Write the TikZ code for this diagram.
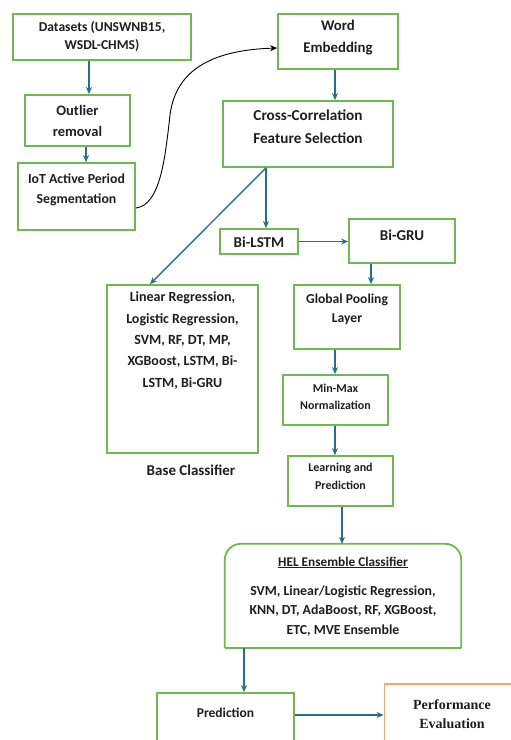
\documentclass[tikz,border=0pt]{standalone}
\usepackage{fontspec}
\setmainfont{Carlito}
\newfontfamily\perffont{Liberation Serif}
\usetikzlibrary{arrows.meta}
\definecolor{boxgreen}{RGB}{112,184,82}
\definecolor{boxorange}{RGB}{244,165,110}
\definecolor{arrteal}{RGB}{42,110,142}
\definecolor{txtc}{RGB}{30,30,30}
\tikzset{
  box/.style={draw=boxgreen, line width=1.8pt, inner sep=0pt},
  obox/.style={draw=boxorange, line width=1.8pt, inner sep=0pt},
  lbl/.style={align=center, inner sep=0pt, text=txtc},
  conn/.style={draw=arrteal, line width=1.4pt, -{Stealth[length=7pt,width=6pt]}},
  curv/.style={draw=black, line width=0.9pt, -{Stealth[length=7pt,width=6pt]}},
}
\newcommand{\fs}[2]{\fontsize{#1}{#2}\selectfont\bfseries}
\begin{document}
\begin{tikzpicture}[x=1pt,y=-1pt]
\useasboundingbox (0,0) rectangle (511,740);
\clip (0,0) rectangle (511,740);
% boxes
\node[box, minimum width=178pt, minimum height=46pt] (ds) at (102,37) {};
\node[lbl, font=\fs{13.6}{18}] (dst) at (102,36) {Datasets (UNSWNB15,\\WSDL-CHMS)};
\node[box, minimum width=105pt, minimum height=51pt] (out) at (77.5,120.5) {};
\node[lbl, font=\fs{14.5}{21}] (outt) at (77.5,120.5) {Outlier\\removal};
\node[box, minimum width=117pt, minimum height=67pt] (iot) at (76.5,196.5) {};
\node[lbl, font=\fs{13.8}{20}] (iott) at (76.5,190) {IoT Active Period\\Segmentation};
\node[box, minimum width=120pt, minimum height=55pt] (we) at (338,41.5) {};
\node[lbl, font=\fs{14.8}{22}] (wet) at (338,38) {Word\\Embedding};
\node[box, minimum width=170pt, minimum height=66pt] (cc) at (308,134) {};
\node[lbl, font=\fs{15.2}{23}] (cct) at (308,126.5) {Cross-Correlation\\Feature Selection};
\node[box, minimum width=78pt, minimum height=25pt] (bl) at (259,241.5) {};
\node[lbl, font=\fs{15}{18}] (blt) at (259,242) {Bi-LSTM};
\node[box, minimum width=106pt, minimum height=44pt] (bg) at (402,241) {};
\node[lbl, font=\fs{15}{18}] (bgt) at (402,235) {Bi-GRU};
\node[box, minimum width=106pt, minimum height=64pt] (gp) at (347,317) {};
\node[lbl, font=\fs{13.6}{19}] (gpt) at (347,309.5) {Global Pooling\\Layer};
\node[box, minimum width=105pt, minimum height=50pt] (mm) at (335.5,400) {};
\node[lbl, font=\fs{12}{17}] (mmt) at (335.5,396.5) {Min-Max\\Normalization};
\node[box, minimum width=105pt, minimum height=50pt] (lp) at (340.5,481) {};
\node[lbl, font=\fs{12}{18}] (lpt) at (340.5,476) {Learning and\\Prediction};
\node[box, minimum width=151pt, minimum height=168pt] (lr) at (182.5,369) {};
\node[lbl, font=\fs{14}{21.3}] (lrt) at (182.5,340.5) {Linear Regression,\\Logistic Regression,\\SVM, RF, DT, MP,\\XGBoost, LSTM, Bi-\\LSTM, Bi-GRU};
\node[lbl, font=\fs{15}{18}, anchor=center] (bct) at (191,470) {Base Classifier};
% HEL box (top corners rounded)
\node[inner sep=0pt, minimum width=236pt, minimum height=104pt] (hel) at (343,596) {};
\draw[boxgreen, line width=1.8pt, rounded corners=16pt] (hel.south west) -- (hel.north west) -- (hel.north east) -- (hel.south east);
\draw[boxgreen, line width=1.8pt] (hel.south east) -- (hel.south west);
\node[lbl, font=\fs{13.3}{18}] (helt) at (343,562.5) {\underline{HEL Ensemble Classifier}};
\node[lbl, font=\fs{13.8}{19.5}] (helb) at (343,611) {SVM, Linear/Logistic Regression,\\KNN, DT, AdaBoost, RF, XGBoost,\\ETC, MVE Ensemble};
\node[box, minimum width=137pt, minimum height=60pt] (pr) at (225.5,723) {};
\node[lbl, font=\fs{13.5}{18}] (prt) at (225.5,713) {Prediction};
\node[obox, minimum width=135pt, minimum height=70pt] (pe) at (452,719) {};
\node[lbl, font=\perffont\fontsize{14}{19}\selectfont\bfseries] (pet) at (452,714) {Performance\\Evaluation};
% connectors
\draw[conn] (89,0 |- ds.south) -- (89,0 |- out.north);
\draw[conn] (86,0 |- out.south) -- (86,0 |- iot.north);
\draw[curv] (iot.east |- 0,208) .. controls (160,205) and (165,160) .. (170,115) .. controls (176,68) and (215,50) .. (we.west |- 0,48);
\draw[conn] (335,0 |- we.south) -- (335,0 |- cc.north);
\draw[conn] (266,0 |- cc.south) -- (266,0 |- bl.north);
\draw[conn] (266,0 |- cc.south) -- (150,0 |- lr.north);
\draw[conn] (bl.east) -- (bg.west |- bl.east);
\draw[conn] (371,0 |- bg.south) -- (371,0 |- gp.north);
\draw[conn] (335,0 |- gp.south) -- (335,0 |- mm.north);
\draw[conn] (335,0 |- mm.south) -- (335,0 |- lp.north);
\draw[conn] (342,0 |- lp.south) -- (342,0 |- hel.north);
\draw[conn] (244,0 |- hel.south) -- (244,0 |- pr.north);
\draw[conn] (pr.east |- 0,715) -- (pe.west |- 0,715);
\end{tikzpicture}
\end{document}
